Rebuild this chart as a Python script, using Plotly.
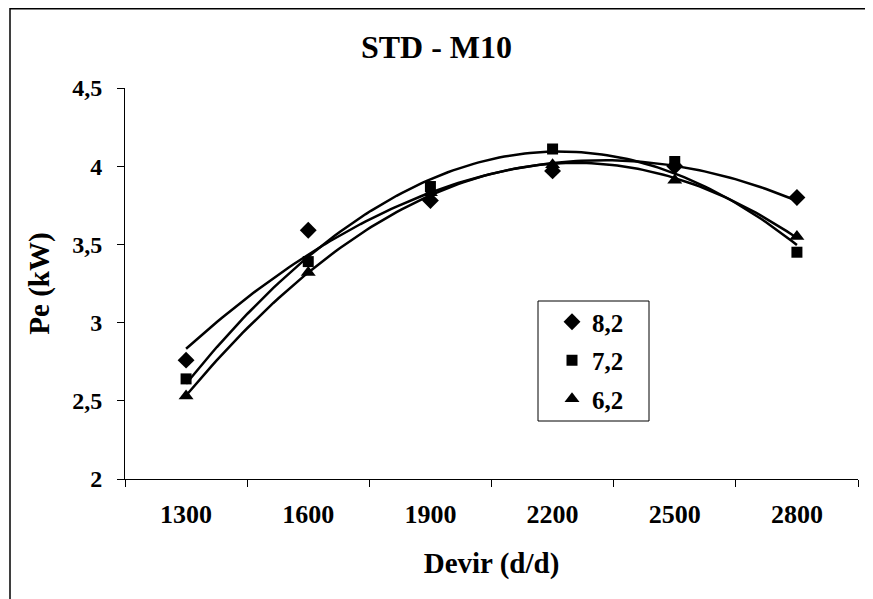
import numpy as np
import plotly.graph_objects as go

categories = ["1300", "1600", "1900", "2200", "2500", "2800"]
s82 = [2.76, 3.59, 3.78, 3.97, 4.00, 3.80]
s72 = [2.64, 3.39, 3.87, 4.11, 4.03, 3.45]
s62 = [2.53, 3.32, 3.83, 4.01, 3.91, 3.55]
names = ["8,2", "7,2", "6,2"]
symbols = ["diamond", "square", "triangle-up"]
y_ticks = [2, 2.5, 3, 3.5, 4, 4.5]
y_tick_labels = ["2", "2,5", "3", "3,5", "4", "4,5"]

# page body has an 8px margin; figure sized to fill the rest of the window
OFF = 8
W, H = 865, 591
L, R, T, B = 117, 15, 80, 120
pw, ph = W - L - R, H - T - B

def px(x):
    return (x - OFF - L) / pw

def py(y):
    return (H - B - (y - OFF)) / ph

FONT = "Liberation Serif"
xi = np.arange(1, len(categories) + 1)
fig = go.Figure()

for vals in (s82, s72, s62):
    c = np.polyfit(xi, vals, 2)
    xs = np.linspace(1, len(categories), 120)
    fig.add_trace(go.Scatter(x=xs, y=np.polyval(c, xs), mode="lines",
                             line=dict(color="black", width=2.5),
                             showlegend=False, hoverinfo="skip"))

msizes = [13, 11, 13]
for vals, nm, sym, ms in zip((s82, s72, s62), names, symbols, msizes):
    fig.add_trace(go.Scatter(x=xi, y=vals, mode="markers", name=f"<b>{nm}</b>",
                             legendgroup=nm,
                             marker=dict(symbol=sym, size=ms, color="black")))

fig.update_layout(
    width=W, height=H,
    margin=dict(l=L, r=R, t=T, b=B, autoexpand=False),
    paper_bgcolor="white", plot_bgcolor="white",
    font=dict(family=FONT, color="black", size=25),
    title=dict(text="<b>STD - M10</b>", x=0.5 - OFF / 2 / W, xref="container",
               xanchor="center",
               y=1 - (47 - OFF) / H, yref="container", yanchor="middle",
               font=dict(size=32, family=FONT)),
    showlegend=True,
    legend=dict(x=px(552), y=py(299), xanchor="left", yanchor="top",
                bgcolor="rgba(0,0,0,0)", borderwidth=0,
                tracegroupgap=3, font=dict(size=25, family=FONT)),
    shapes=[
        dict(type="rect", xref="paper", yref="paper",
             x0=px(538), x1=px(649), y0=py(421), y1=py(301),
             line=dict(color="black", width=1)),
        dict(type="rect", xref="paper", yref="paper",
             x0=px(10), x1=px(900), y0=py(640), y1=py(OFF + 0.8),
             line=dict(color="black", width=1.5), layer="below"),
    ],
)

fig.update_xaxes(
    range=[0.5, 6.5], tickvals=list(xi),
    ticktext=[f"<b>{c}</b>" for c in categories],
    ticks="", showgrid=False, zeroline=False, automargin=False,
    showline=True, linecolor="black", linewidth=1,
    ticklabelstandoff=12, tickfont=dict(size=26, family=FONT),
    minor=dict(tickvals=[i + 0.5 for i in range(0, 7)], ticks="outside",
               ticklen=7, tickcolor="black", showgrid=False),
    title=dict(text="<b>Devir (d/d)</b>", font=dict(size=29, family=FONT), standoff=24),
)
fig.update_yaxes(
    range=[2, 4.5], tickvals=y_ticks,
    ticktext=[f"<b>{t}</b>" for t in y_tick_labels],
    ticks="outside", ticklen=7, tickcolor="black",
    showgrid=False, zeroline=False, automargin=False,
    showline=True, linecolor="black", linewidth=1,
    ticklabelstandoff=10, tickfont=dict(size=24, family=FONT),
    title=dict(text="<b>Pe (kW)</b>", font=dict(size=29, family=FONT), standoff=14),
)

fig.write_html("out.html")
